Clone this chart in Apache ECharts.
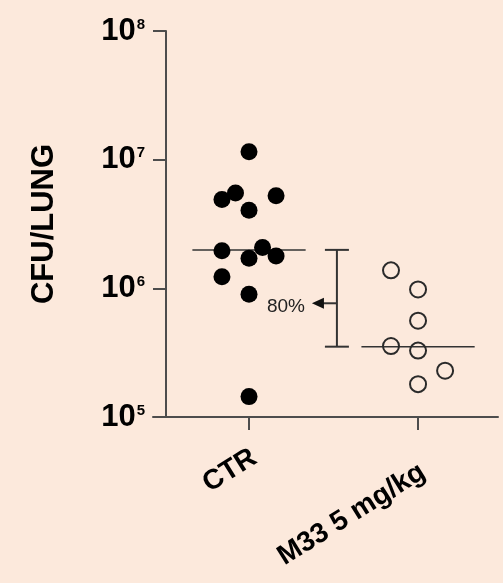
<!DOCTYPE html>
<html>
<head>
<meta charset="utf-8">
<script src="https://cdn.jsdelivr.net/npm/echarts@6/dist/echarts.min.js"></script>
<style>
html,body{margin:0;padding:0;background:#fce9dc;}
#chart{width:503px;height:583px;}
</style>
</head>
<body>
<div id="chart"></div>
<script>
// group names and CFU counts per lung
var categories = ['CTR', 'M33 5 mg/kg'];
var ctrValues = [1.15e7, 5.5e6, 5.25e6, 4.9e6, 4.05e6, 2.08e6, 1.96e6, 1.78e6, 1.71e6, 1.23e6, 9.0e5, 1.44e5];
var ctrJitter = [0, -0.08, 0.16, -0.16, 0, 0.08, -0.16, 0.16, 0, -0.16, 0, 0];
var m33Values = [1.38e6, 9.8e5, 5.6e5, 3.56e5, 3.28e5, 2.29e5, 1.8e5];
var m33Jitter = [-0.16, 0, 0, -0.16, 0, 0.16, 0];
var medians = [1.99e6, 3.52e5];
var reductionLabel = '80%';

var FONT = '"Liberation Sans", Arial, sans-serif';
var AXIS_COLOR = '#4d4d4d';

var chart = echarts.init(document.getElementById('chart'));

// median bars, one short horizontal line per group
var medianSeries = medians.map(function (m, i) {
    var c = i + 1;
    return {
        type: 'line',
        data: [[c - 0.335, m], [c + 0.335, m]],
        symbol: 'none',
        silent: true,
        z: 1,
        lineStyle: {color: '#333', width: 1.5}
    };
});

var catLabel = {fontSize: 28, fontWeight: 'bold', fontFamily: FONT, color: '#000'};

var option = {
    backgroundColor: '#fce9dc',
    animation: false,
    grid: {left: 153, right: 5, top: 31, bottom: 166},
    xAxis: {
        type: 'value',
        min: 0.432,
        max: 2.473,
        splitLine: {show: false},
        axisLine: {show: true, onZero: false, lineStyle: {color: AXIS_COLOR, width: 2}},
        axisTick: {show: true, customValues: [1, 2], length: 13, lineStyle: {color: AXIS_COLOR, width: 2}},
        axisLabel: {
            customValues: [1, 2],
            rotate: 32,
            margin: 30,
            formatter: function (v) {
                var i = Math.round(v) - 1;
                return '{c' + i + '|' + categories[i] + '}';
            },
            rich: {
                c0: Object.assign({padding: [20, 0, 0, 0]}, catLabel),
                c1: Object.assign({padding: [44, 8, 0, 0]}, catLabel)
            }
        }
    },
    yAxis: {
        type: 'log',
        logBase: 10,
        min: 1e5,
        max: 1e8,
        offset: -13,
        name: 'CFU/LUNG',
        nameLocation: 'middle',
        nameGap: 106,
        nameRotate: 90,
        nameTextStyle: {fontSize: 31, fontWeight: 'bold', fontFamily: FONT, color: '#000'},
        splitLine: {show: false},
        axisLine: {show: true, onZero: false, lineStyle: {color: AXIS_COLOR, width: 2}},
        axisTick: {show: true, length: 13, lineStyle: {color: AXIS_COLOR, width: 2}},
        axisLabel: {
            margin: 21,
            formatter: function (v) {
                var e = Math.round(Math.log10(v));
                return '{b|10}{e|' + e + '}';
            },
            rich: {
                b: {fontSize: 31, fontWeight: 'bold', fontFamily: FONT, color: '#000', lineHeight: 30},
                e: {fontSize: 15, fontWeight: 'bold', fontFamily: FONT, color: '#000', verticalAlign: 'top', padding: [1, 0, 0, 1]}
            }
        }
    },
    series: medianSeries.concat([
        {
            type: 'scatter',
            data: ctrValues.map(function (v, i) { return [1 + ctrJitter[i], v]; }),
            symbol: 'circle',
            symbolSize: 17,
            z: 3,
            itemStyle: {color: '#000', opacity: 1}
        },
        {
            type: 'scatter',
            data: m33Values.map(function (v, i) { return [2 + m33Jitter[i], v]; }),
            symbol: 'circle',
            symbolSize: 16,
            z: 3,
            itemStyle: {color: 'rgba(0,0,0,0)', borderColor: '#2a2a2a', borderWidth: 2, opacity: 1}
        },
        {
            // bracket between the two medians with the reduction arrow
            type: 'custom',
            data: [[1.52, medians[0], medians[1]]],
            silent: true,
            z: 2,
            renderItem: function (params, api) {
                var x = api.value(0);
                var top = api.coord([x, api.value(1)]);
                var bot = api.coord([x, api.value(2)]);
                var cap = 12;
                var midY = (top[1] + bot[1]) / 2 + 5;
                var tipX = top[0] - 25;
                var st = {stroke: '#333', lineWidth: 2};
                return {
                    type: 'group',
                    children: [
                        {type: 'line', shape: {x1: top[0], y1: top[1], x2: bot[0], y2: bot[1]}, style: st},
                        {type: 'line', shape: {x1: top[0] - cap, y1: top[1], x2: top[0] + cap, y2: top[1]}, style: st},
                        {type: 'line', shape: {x1: bot[0] - cap, y1: bot[1], x2: bot[0] + cap, y2: bot[1]}, style: st},
                        {type: 'line', shape: {x1: top[0], y1: midY, x2: tipX + 10, y2: midY}, style: st},
                        {type: 'polygon', shape: {points: [[tipX, midY], [tipX + 12, midY - 5.5], [tipX + 12, midY + 5.5]]}, style: {fill: '#111'}},
                        {type: 'text', style: {text: reductionLabel, x: tipX - 7, y: midY + 3, align: 'right', verticalAlign: 'middle', fontSize: 19, fontFamily: FONT, fill: '#222'}}
                    ]
                };
            }
        }
    ])
};

chart.setOption(option);
</script>
</body>
</html>
